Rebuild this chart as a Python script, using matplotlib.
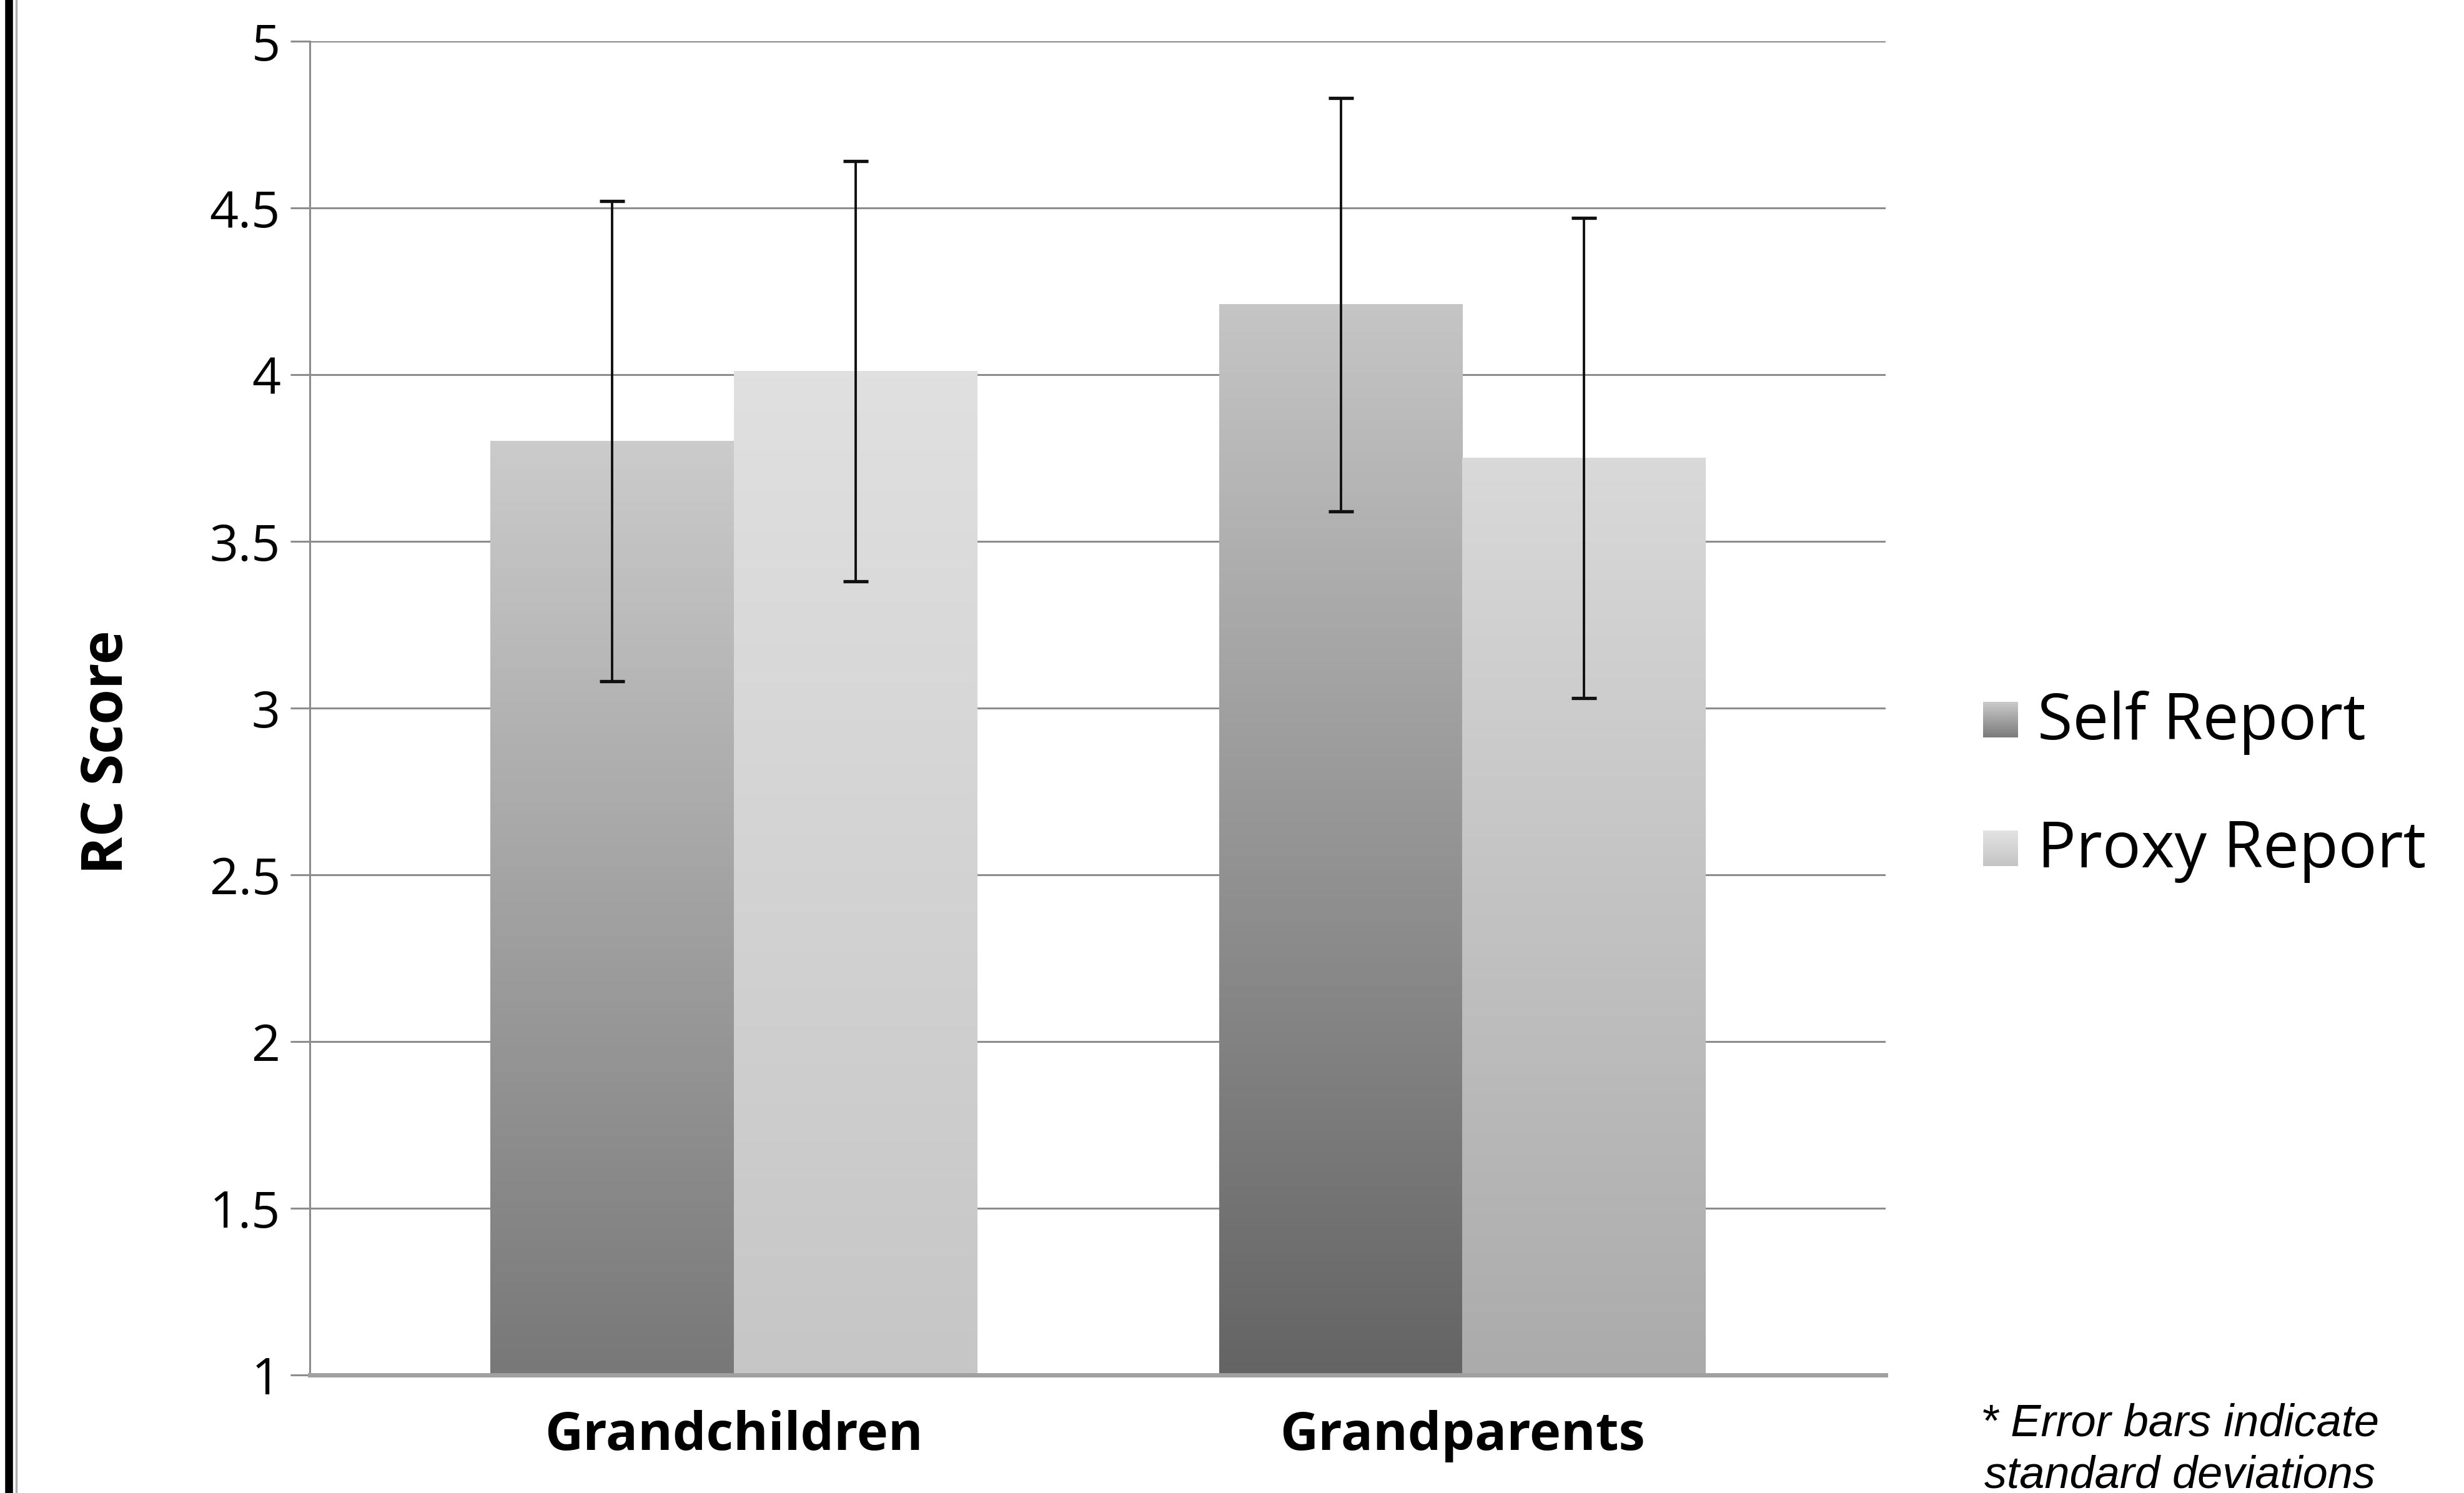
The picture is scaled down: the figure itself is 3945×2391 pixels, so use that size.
import numpy as np
import matplotlib
matplotlib.use("Agg")
import matplotlib.pyplot as plt
from matplotlib.colors import LinearSegmentedColormap
from matplotlib.patches import Rectangle
from matplotlib.legend_handler import HandlerBase
from matplotlib.lines import Line2D

# ---------------- data ----------------
categories = ["Grandchildren", "Grandparents"]
series_names = ["Self Report", "Proxy Report"]
self_report = [3.80, 4.21]
proxy_report = [4.01, 3.75]
self_sd = [0.72, 0.62]
proxy_sd = [0.63, 0.72]
y_ticks = [1, 1.5, 2, 2.5, 3, 3.5, 4, 4.5, 5]
y_tick_labels = ["1", "1.5", "2", "2.5", "3", "3.5", "4", "4.5", "5"]
y_label = "RC Score"
footnote = "* Error bars indicate\nstandard deviations"

# ---------------- style ----------------
W, H, DPI = 3945, 2391, 100
fig = plt.figure(figsize=(W / DPI, H / DPI), dpi=DPI)
fig.patch.set_facecolor("white")
ax = fig.add_axes([496 / W, 1 - 2202 / H, (3019 - 496) / W, (2202 - 66) / H])

font = "Open Sans"
grid_col = "#8c8c8c"
bar_w = 0.334
# top / bottom gradient colours for each bar (series x category)
grad = {
    0: [("#cbcbcb", "#787878"), ("#c5c5c5", "#646464")],
    1: [("#e0e0e0", "#c6c6c6"), ("#d9d9d9", "#ababab")],
}

x = np.arange(len(categories))

ax.set_yticks(y_ticks)
ax.set_yticklabels(y_tick_labels, fontname=font, fontsize=58)
ax.yaxis.grid(True, color=grid_col, linewidth=2.2, zorder=0)
ax.set_axisbelow(True)
ax.tick_params(axis="y", length=22, width=2.2, color=grid_col, pad=12)
ax.tick_params(axis="x", length=0, pad=40)
ax.set_xticks(x)
ax.set_xticklabels(categories, fontname=font, fontsize=61, fontweight="bold")
for s in ["top", "right"]:
    ax.spines[s].set_visible(False)
ax.spines["left"].set_color(grid_col)
ax.spines["left"].set_linewidth(2.2)
ax.spines["bottom"].set_color("#a0a0a0")
ax.spines["bottom"].set_linewidth(5)
ax.set_ylabel(y_label, fontname=font, fontsize=66, fontweight="bold")
ax.yaxis.set_label_coords(-0.110, 0.467)

grad_img = np.linspace(1, 0, 256).reshape(-1, 1)
for si, (vals, sds) in enumerate([(self_report, self_sd), (proxy_report, proxy_sd)]):
    offs = -bar_w / 2 if si == 0 else bar_w / 2
    bars = ax.bar(x + offs, vals, bar_w, bottom=0, color="none", edgecolor="none", zorder=2)
    for ci, b in enumerate(bars):
        top_c, bot_c = grad[si][ci]
        cmap = LinearSegmentedColormap.from_list("g", [bot_c, top_c])
        x0 = b.get_x()
        ax.imshow(grad_img, cmap=cmap, vmin=0, vmax=1, aspect="auto",
                  extent=[x0, x0 + b.get_width(), 1, b.get_height()],
                  zorder=2, interpolation="bilinear")
    ax.errorbar(x + offs, vals, yerr=sds, fmt="none", ecolor="#111111",
                elinewidth=2.8, capsize=14.5, capthick=3.8, zorder=4)
ax.set_xlim(-0.582, 1.581)
ax.set_ylim(1, 5)


# legend with gradient swatches
class GradHandler(HandlerBase):
    def __init__(self, top, bot):
        super().__init__()
        self.top, self.bot = top, bot

    def create_artists(self, legend, orig_handle, xd, yd, width, height, fontsize, trans):
        cmap = LinearSegmentedColormap.from_list("g", [self.bot, self.top])
        arts = []
        n = 20
        side = min(width, height)
        x0 = xd + width - side
        for i in range(n):
            r = Rectangle((x0, -yd + side * i / n - side * 0.05), side, side / n + 0.5,
                          facecolor=cmap(i / (n - 1)), edgecolor="none", transform=trans)
            arts.append(r)
        return arts


h1 = Rectangle((0, 0), 1, 1)
h2 = Rectangle((0, 0), 1, 1)
leg = fig.legend([h1, h2], series_names, loc="center left",
                 bbox_to_anchor=(3082 / W, 1 - 1260 / H), frameon=False,
                 prop={"family": font, "size": 74}, handlelength=0.55, handleheight=0.55,
                 handletextpad=0.3, labelspacing=1.0,
                 handler_map={h1: GradHandler("#c8c8c8", "#7c7c7c"),
                              h2: GradHandler("#e2e2e2", "#c4c4c4")})

fig.text(3490 / W, 1 - 2322 / H, footnote, ha="center", va="center",
         fontname="Liberation Sans", fontstyle="italic", fontsize=52, linespacing=1.28)

# left page border
fig.add_artist(Line2D([14 / W, 14 / W], [0, 1], color="black", linewidth=9,
                      transform=fig.transFigure))
fig.add_artist(Line2D([26 / W, 26 / W], [0, 1], color="#b0b0b0", linewidth=2.5,
                      transform=fig.transFigure))

fig.savefig("out.png", dpi=DPI, facecolor="white")
